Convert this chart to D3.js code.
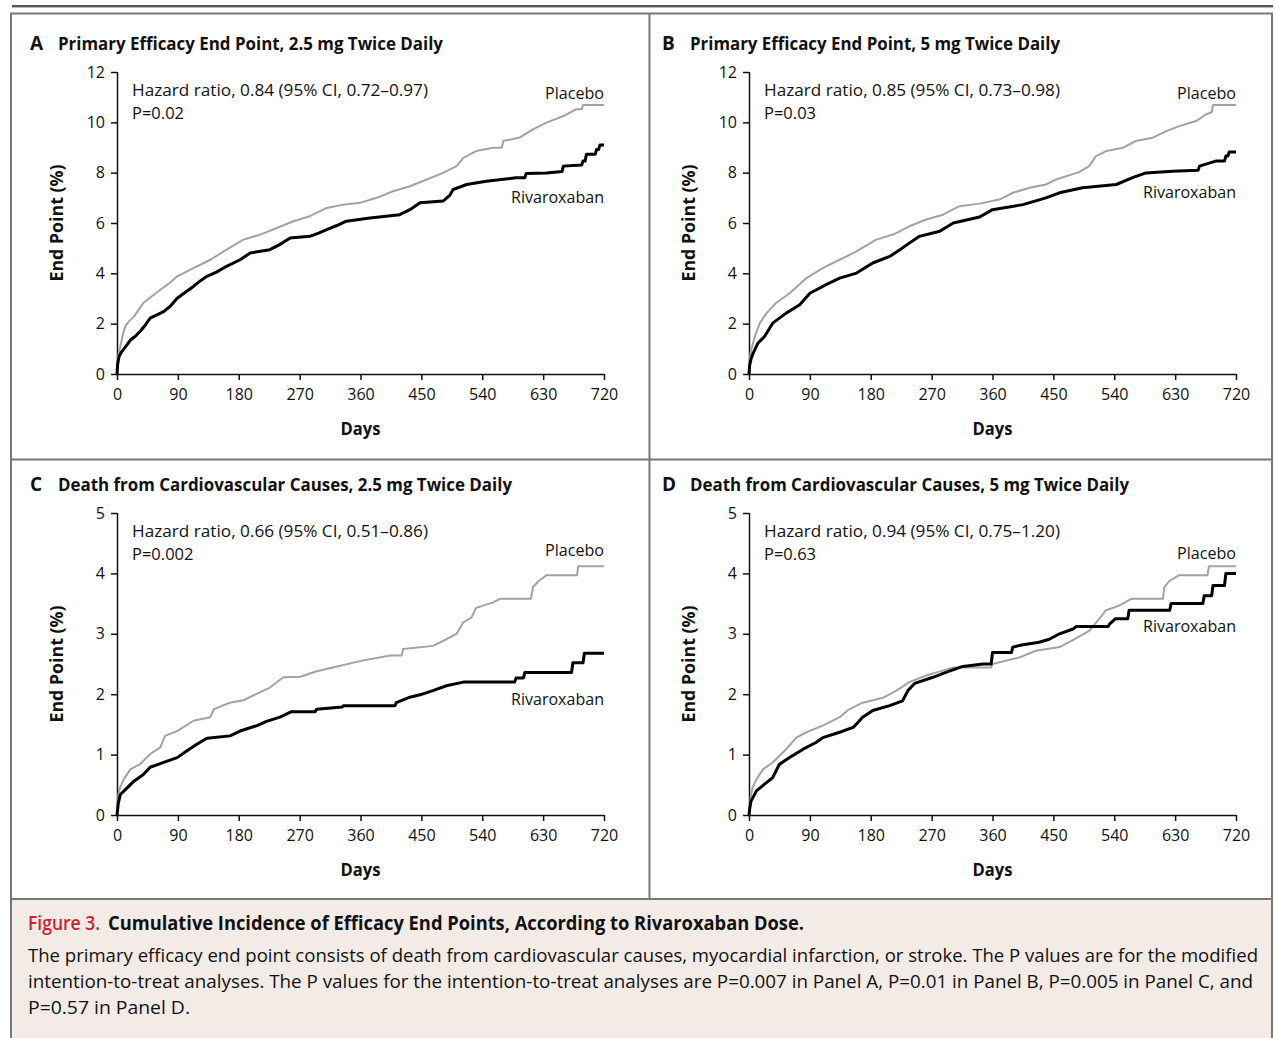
<!DOCTYPE html>
<html><head><meta charset="utf-8">
<script src="https://cdn.jsdelivr.net/npm/d3@7"></script>
<style>
html,body{margin:0;padding:0;background:#fff;}
svg{display:block;}
text{font-family:"Open Sans",sans-serif;fill:#111;}
</style></head>
<body>
<div id="chart"></div>
<script>
// ---------- data ----------
const dayTicks = [0, 90, 180, 270, 360, 450, 540, 630, 720];
const yTicksEfficacy = [0, 2, 4, 6, 8, 10, 12];
const yTicksDeath = [0, 1, 2, 3, 4, 5];
const seriesNames = ["Placebo", "Rivaroxaban"];

// [day, cumulative incidence %]
const aPlacebo = [[0,0],[1,0.6],[3,0.9],[5,1.09],[8,1.5],[12,1.89],[18,2.1],[25,2.28],[39,2.82],[52,3.1],[64,3.35],[77,3.6],[89,3.88],[113,4.21],[138,4.54],[162,4.94],[187,5.34],[212,5.54],[236,5.8],[261,6.07],[285,6.27],[310,6.6],[335,6.73],[359,6.8],[384,7.0],[408,7.26],[433,7.46],[458,7.73],[482,7.99],[502,8.26],[512,8.59],[531,8.86],[556,8.99],[569,8.99],[571,9.26],[595,9.39],[615,9.72],[635,9.99],[660,10.25],[679,10.52],[687,10.52],[689,10.69],[720,10.69]];
const aRivaroxaban = [[0,0],[1,0.4],[3,0.7],[7,0.89],[13,1.1],[20,1.35],[27,1.5],[34,1.69],[42,1.95],[49,2.22],[59,2.35],[69,2.48],[79,2.7],[89,3.01],[101,3.25],[113,3.48],[123,3.7],[133,3.88],[147,4.05],[162,4.28],[182,4.54],[197,4.81],[226,4.94],[241,5.15],[256,5.4],[285,5.47],[298,5.6],[310,5.74],[325,5.9],[339,6.07],[374,6.2],[418,6.33],[433,6.53],[448,6.8],[482,6.87],[492,7.1],[497,7.33],[517,7.53],[546,7.66],[590,7.8],[603,7.8],[605,7.97],[635,7.99],[658,8.05],[660,8.26],[687,8.3],[689,8.46],[692,8.46],[694,8.73],[707,8.73],[709,8.92],[712,8.92],[714,9.1],[720,9.1]];

const bPlacebo = [[0,0],[1,0.6],[3,0.95],[6,1.22],[10,1.6],[16,2.02],[26,2.42],[40,2.82],[60,3.21],[72,3.5],[85,3.81],[109,4.21],[134,4.54],[159,4.87],[188,5.34],[213,5.54],[237,5.87],[262,6.14],[287,6.33],[311,6.67],[341,6.77],[370,6.93],[390,7.2],[415,7.4],[439,7.53],[454,7.73],[488,8.02],[503,8.26],[513,8.66],[528,8.86],[553,8.99],[572,9.26],[597,9.39],[617,9.65],[636,9.85],[661,10.05],[676,10.32],[684,10.4],[686,10.69],[720,10.69]];
const bRivaroxaban = [[0,0],[1,0.35],[3,0.6],[6,0.82],[13,1.22],[23,1.49],[35,2.02],[45,2.22],[55,2.42],[75,2.75],[90,3.21],[114,3.55],[134,3.81],[159,4.01],[183,4.41],[208,4.67],[223,4.94],[237,5.2],[252,5.47],[282,5.67],[302,6.0],[341,6.24],[360,6.53],[405,6.73],[439,7.0],[459,7.2],[493,7.4],[543,7.53],[567,7.8],[587,7.99],[626,8.06],[664,8.1],[666,8.26],[690,8.46],[703,8.46],[705,8.66],[708,8.66],[710,8.82],[720,8.82]];

const cPlacebo = [[0,0],[2,0.34],[5,0.47],[10,0.59],[20,0.76],[34,0.84],[49,1.01],[64,1.12],[71,1.31],[89,1.39],[113,1.56],[138,1.62],[143,1.75],[167,1.86],[187,1.9],[207,2.01],[226,2.11],[246,2.28],[271,2.29],[295,2.38],[330,2.47],[364,2.56],[404,2.64],[421,2.64],[423,2.75],[467,2.8],[487,2.91],[502,3.0],[512,3.19],[524,3.27],[531,3.43],[556,3.52],[566,3.58],[612,3.58],[615,3.77],[623,3.87],[635,3.97],[680,3.97],[682,4.12],[720,4.12]];
const cRivaroxaban = [[0,0],[2,0.2],[5,0.34],[15,0.45],[25,0.56],[39,0.67],[49,0.79],[69,0.87],[89,0.95],[103,1.06],[118,1.17],[133,1.27],[167,1.31],[182,1.39],[207,1.48],[221,1.55],[241,1.62],[258,1.71],[293,1.71],[295,1.75],[333,1.79],[335,1.81],[411,1.81],[413,1.86],[433,1.95],[448,1.99],[467,2.06],[487,2.14],[512,2.2],[588,2.2],[590,2.27],[601,2.27],[603,2.36],[672,2.36],[674,2.52],[689,2.52],[691,2.68],[720,2.68]];

const dPlacebo = [[0,0],[1,0.15],[3,0.34],[6,0.47],[11,0.59],[21,0.76],[35,0.87],[45,0.98],[55,1.09],[70,1.28],[85,1.37],[109,1.48],[134,1.62],[148,1.75],[168,1.86],[198,1.94],[218,2.06],[237,2.2],[262,2.31],[301,2.44],[358,2.44],[360,2.5],[400,2.61],[424,2.72],[459,2.78],[478,2.89],[503,3.05],[518,3.25],[528,3.39],[548,3.47],[565,3.58],[612,3.58],[614,3.77],[621,3.87],[636,3.97],[678,3.97],[680,4.12],[720,4.12]];
const dRivaroxaban = [[0,0],[1,0.1],[3,0.23],[11,0.4],[23,0.51],[35,0.62],[45,0.84],[60,0.95],[80,1.09],[99,1.2],[109,1.28],[134,1.37],[154,1.45],[168,1.62],[183,1.73],[208,1.81],[227,1.89],[235,2.06],[245,2.18],[272,2.28],[291,2.36],[316,2.46],[346,2.5],[358,2.5],[360,2.69],[388,2.69],[390,2.78],[405,2.82],[429,2.86],[444,2.91],[459,3.0],[479,3.08],[484,3.12],[531,3.12],[533,3.16],[542,3.25],[560,3.25],[562,3.39],[622,3.39],[624,3.5],[671,3.5],[673,3.63],[684,3.63],[686,3.8],[703,3.8],[705,4.0],[720,4.0]];

const panelLetters = ["A", "B", "C", "D"];
const panelTitles = [
  "Primary Efficacy End Point, 2.5 mg Twice Daily",
  "Primary Efficacy End Point, 5 mg Twice Daily",
  "Death from Cardiovascular Causes, 2.5 mg Twice Daily",
  "Death from Cardiovascular Causes, 5 mg Twice Daily"
];
const hazardTexts = [
  "Hazard ratio, 0.84 (95% CI, 0.72\u20130.97)",
  "Hazard ratio, 0.85 (95% CI, 0.73\u20130.98)",
  "Hazard ratio, 0.66 (95% CI, 0.51\u20130.86)",
  "Hazard ratio, 0.94 (95% CI, 0.75\u20131.20)"
];
const pTexts = ["P=0.02", "P=0.03", "P=0.002", "P=0.63"];
const captionLabel = "Figure 3.";
const captionTitle = "Cumulative Incidence of Efficacy End Points, According to Rivaroxaban Dose.";
const captionLines = [
  "The primary efficacy end point consists of death from cardiovascular causes, myocardial infarction, or stroke. The P values are for the modified",
  "intention-to-treat analyses. The P values for the intention-to-treat analyses are P=0.007 in Panel A, P=0.01 in Panel B, P=0.005 in Panel C, and",
  "P=0.57 in Panel D."
];

// ---------- layout ----------
const W = 1275, H = 1038;
const svg = d3.select("#chart").append("svg").attr("width", W).attr("height", H);
svg.append("rect").attr("width", W).attr("height", H).attr("fill", "#fff");

function fit(sel, w) {
  const m = sel.node().getComputedTextLength();
  if (Math.abs(m - w) / w > 0.01) sel.attr("textLength", w).attr("lengthAdjust", "spacingAndGlyphs");
  return sel;
}

// top rule
svg.append("rect").attr("x", 12).attr("y", 5).attr("width", 1261).attr("height", 2.4).attr("fill", "#555");
// caption background
svg.append("rect").attr("x", 11).attr("y", 899).attr("width", 1261).attr("height", 145).attr("fill", "#f2ebe6");
// outer frame
const frame = svg.append("g").attr("stroke", "#777").attr("stroke-width", 2).attr("fill", "none");
frame.append("path").attr("d", "M11,1040 V13.5 H1272 V1040");
frame.append("line").attr("x1", 11).attr("x2", 1272).attr("y1", 899).attr("y2", 899);
frame.append("line").attr("x1", 11).attr("x2", 1272).attr("y1", 459.5).attr("y2", 459.5);
frame.append("line").attr("x1", 649.5).attr("x2", 649.5).attr("y1", 13.5).attr("y2", 899);

const panels = [
  { placebo: aPlacebo, riva: aRivaroxaban, yTicks: yTicksEfficacy, dx: 0,   dy: 0,   pl: 99,  rl: 203 },
  { placebo: bPlacebo, riva: bRivaroxaban, yTicks: yTicksEfficacy, dx: 632, dy: 0,   pl: 99,  rl: 198 },
  { placebo: cPlacebo, riva: cRivaroxaban, yTicks: yTicksDeath,    dx: 0,   dy: 441, pl: 556, rl: 705 },
  { placebo: dPlacebo, riva: dRivaroxaban, yTicks: yTicksDeath,    dx: 632, dy: 441, pl: 559, rl: 632 }
];
const titleW = [385, 370, 454, 439];

panels.forEach((p, i) => {
  const x0 = 117 + p.dx, x1 = 604 + p.dx, yBot = 374 + p.dy, yTop = 72 + p.dy;
  const x = d3.scaleLinear().domain([0, 720]).range([x0, x1]);
  const y = d3.scaleLinear().domain([0, d3.max(p.yTicks)]).range([yBot, yTop]);
  const g = svg.append("g");

  // title
  g.append("text").attr("x", 30 + p.dx).attr("y", 50 + p.dy)
    .attr("font-size", 19).attr("font-weight", 700).text(panelLetters[i]);
  fit(g.append("text").attr("x", 58 + p.dx).attr("y", 50 + p.dy)
    .attr("font-size", 17.5).attr("font-weight", 700).text(panelTitles[i]), titleW[i]);

  // axes
  const ya = g.append("g").attr("transform", `translate(${x0},0)`)
    .call(d3.axisLeft(y).tickValues(p.yTicks).tickSize(6).tickSizeOuter(0).tickPadding(6).tickFormat(d3.format("d")));
  const xa = g.append("g").attr("transform", `translate(0,${yBot})`)
    .call(d3.axisBottom(x).tickValues(dayTicks).tickSize(6).tickSizeOuter(0).tickPadding(9).tickFormat(d3.format("d")));
  [ya, xa].forEach(a => {
    a.selectAll("path,line").attr("stroke", "#111").attr("stroke-width", 1.5);
    a.selectAll("text").attr("font-size", 16).attr("fill", "#111").style("font-family", '"Open Sans",sans-serif');
  });
  ya.select(".domain").attr("d", `M0.5,${yBot}V${yTop}`);
  xa.select(".domain").attr("d", `M${x0},0.5H${x1}`);

  // axis titles
  fit(g.append("text").attr("x", (x0 + x1) / 2).attr("y", 435 + p.dy).attr("text-anchor", "middle")
    .attr("font-size", 17).attr("font-weight", 700).text("Days"), 40);
  fit(g.append("text").attr("transform", `translate(${63 + p.dx},${(yBot + yTop) / 2}) rotate(-90)`)
    .attr("text-anchor", "middle").attr("font-size", 17).attr("font-weight", 700).text("End Point (%)"), 117);

  // annotation
  fit(g.append("text").attr("x", 132 + p.dx).attr("y", 96 + p.dy).attr("font-size", 16.5).text(hazardTexts[i]), 296);
  g.append("text").attr("x", 132 + p.dx).attr("y", 119 + p.dy).attr("font-size", 16.5).text(pTexts[i]);

  // curves
  const line = d3.line().x(d => x(d[0])).y(d => y(d[1]));
  g.append("path").datum(p.placebo).attr("d", line).attr("fill", "none")
    .attr("stroke", "#a2a2a2").attr("stroke-width", 2).attr("stroke-linejoin", "round");
  g.append("path").datum(p.riva).attr("d", line).attr("fill", "none")
    .attr("stroke", "#000").attr("stroke-width", 3).attr("stroke-linejoin", "round");

  // series labels (right aligned)
  const t1 = g.append("text").attr("y", p.pl).attr("font-size", 16.5).text(seriesNames[0]);
  fit(t1, 59); t1.attr("x", x1 - 59);
  const t2 = g.append("text").attr("y", p.rl).attr("font-size", 16.5).text(seriesNames[1]);
  fit(t2, 93); t2.attr("x", x1 - 93);
});

// caption
svg.append("text").attr("x", 28).attr("y", 930).attr("font-size", 19).attr("font-weight", 600)
  .style("fill", "#d0202e").text(captionLabel).call(s => fit(s, 72));
svg.append("text").attr("x", 108).attr("y", 930).attr("font-size", 19).attr("font-weight", 700)
  .text(captionTitle).call(s => fit(s, 696));
const capW = [1230, 1225, 162];
captionLines.forEach((t, i) => {
  svg.append("text").attr("x", 28).attr("y", 962 + i * 26).attr("font-size", 17.5)
    .text(t).call(s => fit(s, capW[i]));
});
</script>
</body></html>
